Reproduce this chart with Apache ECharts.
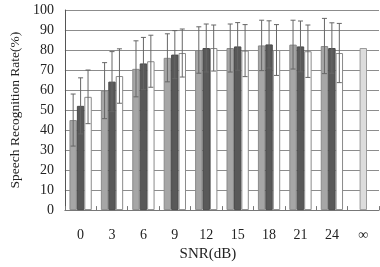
<!DOCTYPE html>
<html>
<head>
<meta charset="utf-8">
<script src="https://cdn.jsdelivr.net/npm/echarts@6/dist/echarts.min.js"></script>
<style>
  html, body { margin: 0; padding: 0; background: #fff; }
  #chart { width: 380px; height: 267px; }
</style>
</head>
<body>
<div id="chart"></div>
<script>
var categories = ['0', '3', '6', '9', '12', '15', '18', '21', '24', '\u221e'];
var yTicks = [0, 10, 20, 30, 40, 50, 60, 70, 80, 90, 100];

// mean recognition rate per condition (null = not measured)
var seriesA = [45, 59.7, 70.6, 76.1, 80, 81, 82.3, 82.7, 82, null];
var seriesB = [52.1, 64.2, 73.3, 77.7, 81, 81.8, 82.8, 81.8, 81, 81];
var seriesC = [56.6, 67, 74.4, 78.5, 81, 79.7, 80, 79.4, 78.5, null];

// standard deviations
var sdA = [13, 14, 14, 12, 11.6, 12, 12.6, 12.2, 13.8, null];
var sdB = [14, 15, 13, 12, 12, 11.9, 11.8, 12.7, 12.6, null];
var sdC = [13.4, 13.6, 13, 12, 11.5, 13, 12.7, 13.1, 14.8, null];

var means = [seriesA, seriesB, seriesC];
var sds = [sdA, sdB, sdC];
var barColors = ['#a6a6a6', '#595959', '#ffffff'];
var borderColors = ['#8a8a8a', '#4a4a4a', '#8a8a8a'];
var font = 'Liberation Serif';

var chart = echarts.init(document.getElementById('chart'));

var series = [];
means.forEach(function (vals, s) {
    series.push({
        type: 'bar',
        barGap: 0,
        barCategoryGap: '29%',
        data: vals.map(function (v, i) {
            if (s === 1 && i === categories.length - 1) {
                return { value: v, itemStyle: { color: '#dcdcdc', borderColor: '#9a9a9a' } };
            }
            return v;
        }),
        itemStyle: { color: barColors[s], borderColor: borderColors[s], borderWidth: 1 },
        silent: true
    });
});

means.forEach(function (vals, s) {
    var errData = [];
    vals.forEach(function (v, i) {
        if (v != null && sds[s][i] != null) {
            errData.push([i, v - sds[s][i], v + sds[s][i]]);
        }
    });
    series.push({
        type: 'custom',
        silent: true,
        z: 5,
        data: errData,
        renderItem: function (params, api) {
            var idx = api.value(0);
            var bandW = api.size([1, 0])[0];
            var barW = bandW * 0.71 / 3;
            var x = api.coord([idx, 0])[0] + (s - 1) * barW;
            var lo = api.coord([idx, api.value(1)])[1];
            var hi = api.coord([idx, api.value(2)])[1];
            var cap = 2.5;
            var st = { stroke: '#666', lineWidth: 1 };
            return {
                type: 'group',
                children: [
                    { type: 'line', shape: { x1: x, y1: lo, x2: x, y2: hi }, style: st },
                    { type: 'line', shape: { x1: x - cap, y1: hi, x2: x + cap, y2: hi }, style: st },
                    { type: 'line', shape: { x1: x - cap, y1: lo, x2: x + cap, y2: lo }, style: st }
                ]
            };
        }
    });
});

chart.setOption({
    animation: false,
    grid: { left: 53, right: 1, top: 10, bottom: 55 },
    xAxis: {
        type: 'category',
        data: categories,
        name: 'SNR(dB)',
        nameLocation: 'middle',
        nameGap: 36,
        nameTextStyle: { fontFamily: font, fontSize: 15, color: '#222', padding: [0, 28, 0, 0] },
        axisLine: { lineStyle: { color: '#777' } },
        axisTick: { show: true, inside: true, length: 4, lineStyle: { color: '#777' } },
        axisLabel: { fontFamily: font, fontSize: 14, color: '#222', margin: 18 }
    },
    yAxis: {
        type: 'value',
        min: yTicks[0],
        max: yTicks[yTicks.length - 1],
        interval: 10,
        name: 'Speech Recognition Rate(%)',
        nameLocation: 'middle',
        nameGap: 40,
        nameTextStyle: { fontFamily: font, fontSize: 13.5, color: '#222' },
        axisLine: { show: true, lineStyle: { color: '#555' } },
        axisTick: { show: false },
        axisLabel: { fontFamily: font, fontSize: 14, color: '#222', margin: 11 },
        splitLine: { lineStyle: { color: '#8c8c8c' } }
    },
    series: series
});
</script>
</body>
</html>
